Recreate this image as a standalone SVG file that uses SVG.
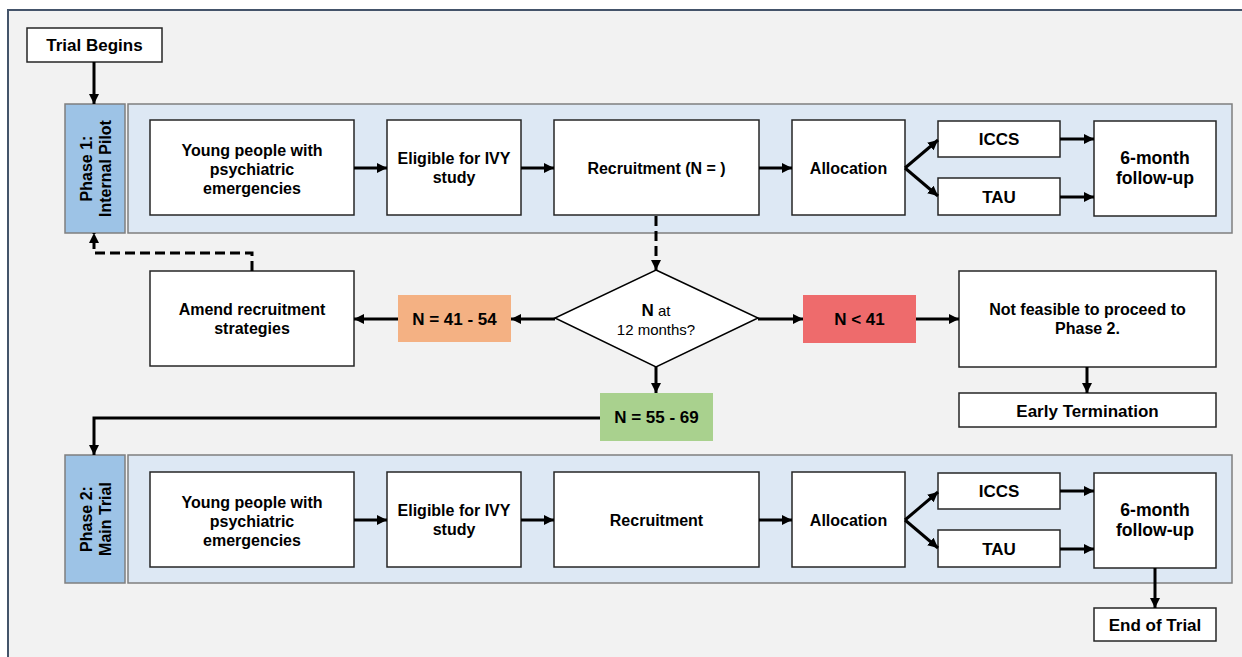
<svg xmlns="http://www.w3.org/2000/svg" width="1242" height="657" viewBox="0 0 1242 657">
<style>
text{font-family:"Liberation Sans",Arial,sans-serif;fill:#000;text-anchor:middle}
.b{font-weight:bold;font-size:16px}
.b17{font-weight:bold;font-size:17px}
.f{font-weight:bold;font-size:17.6px}
.box{fill:#fff;stroke:#262626;stroke-width:1.5}
.lab{fill:#9dc3e6;stroke:#7f7f7f;stroke-width:1.5}
.band{fill:#dde8f4;stroke:#7f7f7f;stroke-width:1.5}
.c{fill:none;stroke:#000;stroke-width:3}
.d{fill:none;stroke:#000;stroke-width:3;stroke-dasharray:10,5}
</style>
<defs>
<marker id="ah" markerWidth="10" markerHeight="10" refX="10" refY="5" orient="auto" markerUnits="userSpaceOnUse"><path d="M0,0 L10,5 L0,10 z" fill="#000"/></marker>
</defs>
<rect x="0" y="0" width="1242" height="657" fill="#fff"/>
<rect x="8" y="10" width="1250" height="660" fill="#f2f2f2" stroke="#44546a" stroke-width="2"/>

<g id="bands">
<rect class="band" x="128" y="104" width="1104" height="129"/>
<rect class="band" x="128" y="455" width="1104" height="128"/>
</g>

<g id="trial-begins"><rect class="box" x="27" y="28" width="135" height="34"/><text class="b17" x="94.5" y="51">Trial Begins</text></g>

<g id="phase1-label"><rect class="lab" x="65" y="104" width="60" height="129"/>
<text class="b" transform="translate(92,168.5) rotate(-90)">Phase 1:</text>
<text class="b" transform="translate(111,168.5) rotate(-90)">Internal Pilot</text></g>

<g id="p1-young"><rect class="box" x="150" y="120" width="204" height="95"/>
<text class="b" x="252" y="156">Young people with</text><text class="b" x="252" y="175">psychiatric</text><text class="b" x="252" y="194">emergencies</text></g>
<g id="p1-eligible"><rect class="box" x="387" y="120" width="134" height="95"/>
<text class="b" x="454" y="164">Eligible for IVY</text><text class="b" x="454" y="183">study</text></g>
<g id="p1-recruit"><rect class="box" x="554" y="120" width="205" height="95"/>
<text class="b" x="656.5" y="174">Recruitment (N = )</text></g>
<g id="p1-alloc"><rect class="box" x="792" y="120" width="113" height="95"/>
<text class="b" x="848.5" y="174">Allocation</text></g>
<g id="p1-iccs"><rect class="box" x="938" y="121" width="122" height="36"/><text class="b17" x="999" y="145">ICCS</text></g>
<g id="p1-tau"><rect class="box" x="938" y="178" width="122" height="37"/><text class="b17" x="999" y="203">TAU</text></g>
<g id="p1-follow"><rect class="box" x="1094" y="121" width="122" height="95"/>
<text class="f" x="1155" y="164">6-month</text><text class="f" x="1155" y="184">follow-up</text></g>

<g id="decision"><path d="M656,270 L758,318 L656,367 L555,318 Z" fill="#fff" stroke="#000" stroke-width="1.5"/>
<text x="656" y="316" font-size="15"><tspan font-weight="bold" font-size="17">N</tspan> at</text>
<text x="656" y="335" font-size="15">12 months?</text></g>

<g id="amend"><rect class="box" x="150" y="271" width="204" height="95"/>
<text class="b" x="252" y="315">Amend recruitment</text><text class="b" x="252" y="334">strategies</text></g>
<g id="n41-54"><rect x="398" y="295" width="113" height="47" fill="#f4b183"/><text class="b17" x="454.5" y="325">N = 41 - 54</text></g>
<g id="nlt41"><rect x="803" y="295" width="113" height="48" fill="#ee6b6c"/><text class="b17" x="859.5" y="325">N &lt; 41</text></g>
<g id="not-feasible"><rect class="box" x="959" y="271" width="257" height="96"/>
<text class="b" x="1087.5" y="315">Not feasible to proceed to</text><text class="b" x="1087.5" y="334">Phase 2.</text></g>
<g id="early-term"><rect class="box" x="959" y="393" width="257" height="34"/><text class="b17" x="1087.5" y="417">Early Termination</text></g>
<g id="n55-69"><rect x="600" y="393" width="113" height="48" fill="#a9d18e"/><text class="b17" x="656.5" y="423">N = 55 - 69</text></g>

<g id="phase2-label"><rect class="lab" x="65" y="455" width="60" height="128"/>
<text class="b" transform="translate(92,519) rotate(-90)">Phase 2:</text>
<text class="b" transform="translate(111,519) rotate(-90)">Main Trial</text></g>

<g id="p2-young"><rect class="box" x="150" y="472" width="204" height="95"/>
<text class="b" x="252" y="508">Young people with</text><text class="b" x="252" y="527">psychiatric</text><text class="b" x="252" y="546">emergencies</text></g>
<g id="p2-eligible"><rect class="box" x="387" y="472" width="134" height="95"/>
<text class="b" x="454" y="516">Eligible for IVY</text><text class="b" x="454" y="535">study</text></g>
<g id="p2-recruit"><rect class="box" x="554" y="472" width="205" height="95"/>
<text class="b" x="656.5" y="526">Recruitment</text></g>
<g id="p2-alloc"><rect class="box" x="792" y="472" width="113" height="95"/>
<text class="b" x="848.5" y="526">Allocation</text></g>
<g id="p2-iccs"><rect class="box" x="938" y="473" width="122" height="36"/><text class="b17" x="999" y="497">ICCS</text></g>
<g id="p2-tau"><rect class="box" x="938" y="530" width="122" height="37"/><text class="b17" x="999" y="555">TAU</text></g>
<g id="p2-follow"><rect class="box" x="1094" y="473" width="122" height="95"/>
<text class="f" x="1155" y="516">6-month</text><text class="f" x="1155" y="536">follow-up</text></g>
<g id="end-trial"><rect class="box" x="1094" y="608" width="122" height="33"/><text class="b17" x="1155" y="631">End of Trial</text></g>

<g id="connectors">
<line class="c" x1="94" y1="62" x2="94" y2="104" marker-end="url(#ah)"/>
<line class="c" x1="354" y1="168" x2="387" y2="168" marker-end="url(#ah)"/>
<line class="c" x1="521" y1="168" x2="554" y2="168" marker-end="url(#ah)"/>
<line class="c" x1="759" y1="168" x2="792" y2="168" marker-end="url(#ah)"/>
<line class="c" x1="905" y1="168" x2="938" y2="140" marker-end="url(#ah)"/>
<line class="c" x1="905" y1="168" x2="938" y2="196" marker-end="url(#ah)"/>
<line class="c" x1="1060" y1="139" x2="1094" y2="139" marker-end="url(#ah)"/>
<line class="c" x1="1060" y1="197" x2="1094" y2="197" marker-end="url(#ah)"/>
<line class="d" x1="656" y1="216" x2="656" y2="270" marker-end="url(#ah)"/>
<polyline class="d" points="252,271 252,253 94,253 94,233" marker-end="url(#ah)"/>
<line class="c" x1="555" y1="319" x2="511" y2="319" marker-end="url(#ah)"/>
<line class="c" x1="398" y1="319" x2="354" y2="319" marker-end="url(#ah)"/>
<line class="c" x1="758" y1="319" x2="803" y2="319" marker-end="url(#ah)"/>
<line class="c" x1="916" y1="319" x2="959" y2="319" marker-end="url(#ah)"/>
<line class="c" x1="1087" y1="367" x2="1087" y2="393" marker-end="url(#ah)"/>
<line class="c" x1="656" y1="367" x2="656" y2="393" marker-end="url(#ah)"/>
<polyline class="c" points="600,418 94,418 94,455" marker-end="url(#ah)"/>
<line class="c" x1="354" y1="520" x2="387" y2="520" marker-end="url(#ah)"/>
<line class="c" x1="521" y1="520" x2="554" y2="520" marker-end="url(#ah)"/>
<line class="c" x1="759" y1="520" x2="792" y2="520" marker-end="url(#ah)"/>
<line class="c" x1="905" y1="520" x2="938" y2="492" marker-end="url(#ah)"/>
<line class="c" x1="905" y1="520" x2="938" y2="548" marker-end="url(#ah)"/>
<line class="c" x1="1060" y1="491" x2="1094" y2="491" marker-end="url(#ah)"/>
<line class="c" x1="1060" y1="549" x2="1094" y2="549" marker-end="url(#ah)"/>
<line class="c" x1="1155" y1="568" x2="1155" y2="608" marker-end="url(#ah)"/>
</g>
</svg>
